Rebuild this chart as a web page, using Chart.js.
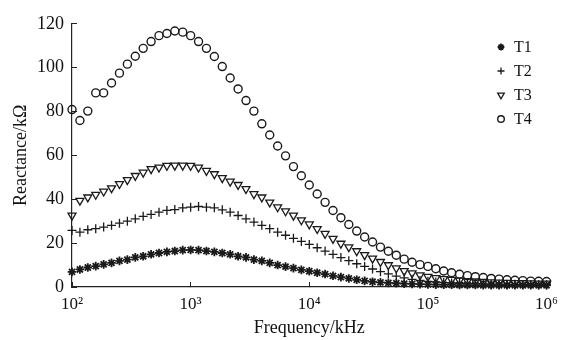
<!DOCTYPE html>
<html>
<head>
<meta charset="utf-8">
<script src="https://cdn.jsdelivr.net/npm/chart.js@4/dist/chart.umd.min.js"></script>
<style>
    html, body { margin: 0; padding: 0; background: #fff; }
    canvas { display: block; }
</style>
</head>
<body>
<canvas id="reactanceChart" width="570" height="340"></canvas>
<script>
// Frequency sweep in kHz (15 points per decade)
const frequencies = [
    100, 116.6, 135.9, 158.5, 184.8, 215.4, 251.2, 292.9, 341.5, 398.1, 464.2, 541.2, 631.0, 735.6, 857.7,
    1000, 1166, 1359, 1585, 1848, 2154, 2512, 2929, 3415, 3981, 4642, 5412, 6310, 7356, 8577,
    10000, 11659, 13594, 15849, 18478, 21544, 25119, 29286, 34145, 39811, 46416, 54117, 63096, 73564, 85770,
    100000, 116590, 135940, 158490, 184780, 215440, 251190, 292860, 341450, 398110, 464160, 541170, 630960, 735640, 857700,
    1000000,
];

// Reactance in kOhm
const reactanceT1 = [
    6.9, 8.0, 8.9, 9.5, 10.3, 11.0, 11.9, 12.5, 13.5, 14.0, 14.9, 15.5, 16.0, 16.4, 16.8,
    16.9, 16.8, 16.4, 16.0, 15.5, 14.9, 14.0, 13.5, 12.5, 11.9, 11.0, 10.0, 9.3, 8.6, 7.8,
    7.2, 6.5, 5.9, 5.1, 4.5, 3.9, 3.3, 2.8, 2.4, 2.1, 1.9, 1.7, 1.5, 1.4, 1.3,
    1.2, 1.1, 1.0, 1.0, 0.9, 0.9, 0.9, 0.8, 0.8, 0.8, 0.8, 0.8, 0.8, 0.8, 0.8,
    0.8,
];
const reactanceT2 = [
    25.8, 25.0, 26.1, 26.6, 27.3, 28.1, 29.1, 30.0, 31.1, 32.2, 33.1, 34.1, 34.9, 35.3, 36.1,
    36.4, 36.7, 36.4, 36.1, 35.2, 34.1, 32.6, 31.1, 29.6, 28.1, 26.6, 25.0, 23.6, 22.2, 20.8,
    19.4, 17.9, 16.4, 14.9, 13.4, 12.0, 10.6, 9.4, 8.2, 7.0, 6.0, 5.0, 4.2, 3.5, 3.0,
    2.6, 2.3, 2.0, 1.8, 1.7, 1.6, 1.5, 1.4, 1.3, 1.3, 1.2, 1.2, 1.1, 1.1, 1.0,
    1.0,
];
const reactanceT3 = [
    32.6, 39.4, 40.9, 42.1, 43.6, 45.1, 47.0, 48.8, 50.7, 52.2, 53.8, 54.5, 55.3, 55.4, 55.4,
    55.3, 54.5, 53.0, 51.5, 49.7, 48.1, 46.6, 44.7, 42.4, 40.9, 38.6, 36.4, 34.6, 32.6, 30.5,
    28.6, 26.5, 24.3, 22.0, 19.8, 18.2, 16.4, 14.6, 13.0, 11.5, 10.0, 8.6, 7.3, 6.3, 5.4,
    4.7, 4.1, 3.7, 3.3, 3.0, 2.8, 2.6, 2.4, 2.2, 2.1, 2.0, 1.9, 1.8, 1.7, 1.6,
    1.6,
];
const reactanceT4 = [
    80.9, 75.9, 80.2, 88.5, 88.5, 93.0, 97.5, 101.6, 105.2, 108.8, 111.9, 114.6, 115.6, 116.7, 116.2,
    114.6, 111.9, 108.8, 105.1, 100.5, 95.3, 90.3, 85.0, 80.2, 74.4, 69.3, 64.3, 59.8, 54.9, 50.7,
    46.5, 42.4, 38.6, 34.9, 31.6, 28.5, 25.5, 22.8, 20.5, 18.2, 16.3, 14.5, 12.7, 11.3, 10.2,
    9.4, 8.3, 7.3, 6.5, 5.8, 5.2, 4.7, 4.3, 3.9, 3.6, 3.3, 3.1, 2.9, 2.7, 2.6,
    2.5,
];

const seriesLabels = ['T1', 'T2', 'T3', 'T4'];
const xTickValues = [100, 1000, 10000, 100000, 1000000];
const xTickLabels = ['10\u00b2', '10\u00b3', '10\u2074', '10\u2075', '10\u2076'];

const serif = "'Liberation Serif', 'Times New Roman', serif";

const markerStyles = [
    {pointStyle: 'star', radius: 4.3, borderWidth: 1.8, rotation: 0, legendRadius: 3.4},
    {pointStyle: 'cross', radius: 4.5, borderWidth: 1.3, rotation: 0, legendRadius: 3.5},
    {pointStyle: 'triangle', radius: 4.6, borderWidth: 1.3, rotation: 180, legendRadius: 3.8},
    {pointStyle: 'circle', radius: 4, borderWidth: 1.4, rotation: 0, legendRadius: 3.3},
];

const allSeries = [reactanceT1, reactanceT2, reactanceT3, reactanceT4];

const datasets = allSeries.map((values, i) => ({
    label: seriesLabels[i],
    data: frequencies.map((f, j) => ({x: f, y: values[j]})),
    showLine: false,
    clip: false,
    pointStyle: markerStyles[i].pointStyle,
    pointRadius: markerStyles[i].radius,
    pointBorderWidth: markerStyles[i].borderWidth,
    pointRotation: markerStyles[i].rotation,
    borderColor: '#1a1a1a',
    backgroundColor: 'rgba(0, 0, 0, 0)',
}));

// Legend drawn inside the plot, top right
const insideLegend = {
    id: 'insideLegend',
    afterDraw(chart) {
        const ctx = chart.ctx;
        ctx.save();
        ctx.font = '16px ' + serif;
        ctx.textBaseline = 'middle';
        ctx.textAlign = 'left';
        seriesLabels.forEach((label, i) => {
            const y = 47 + i * 24;
            const m = markerStyles[i];
            ctx.strokeStyle = '#1a1a1a';
            ctx.fillStyle = 'rgba(0, 0, 0, 0)';
            ctx.lineWidth = m.borderWidth;
            Chart.helpers.drawPoint(ctx, {
                pointStyle: m.pointStyle,
                radius: m.legendRadius,
                borderWidth: m.borderWidth,
                rotation: m.rotation,
            }, 501, y);
            ctx.fillStyle = '#111';
            ctx.fillText(label, 514, y + 1);
        });
        ctx.restore();
    },
};

const reactanceChartCtx = document.getElementById('reactanceChart').getContext('2d');

new Chart(reactanceChartCtx, {
    type: 'scatter',
    data: {datasets},
    options: {
        responsive: false,
        animation: false,
        devicePixelRatio: 1,
        layout: {padding: {left: 0, right: 19, top: 22, bottom: 0}},
        plugins: {
            legend: {display: false},
            tooltip: {enabled: false},
        },
        scales: {
            x: {
                type: 'logarithmic',
                min: 100,
                max: 1000000,
                afterBuildTicks: (scale) => {
                    scale.ticks = xTickValues.map((v) => ({value: v}));
                },
                afterFit: (scale) => {
                    scale.height = 53;
                },
                ticks: {
                    autoSkip: false,
                    maxRotation: 0,
                    padding: 12,
                    color: '#111',
                    font: {family: serif, size: 17},
                    callback: (value, index) => xTickLabels[index],
                },
                grid: {drawOnChartArea: false, tickLength: -5, tickColor: '#222', tickWidth: 1},
                border: {display: true, color: '#222', width: 1.2},
                title: {
                    display: true,
                    text: 'Frequency/kHz',
                    color: '#111',
                    font: {family: serif, size: 18},
                    padding: {top: 0, bottom: 1},
                },
            },
            y: {
                min: 0,
                max: 120,
                afterFit: (scale) => {
                    scale.width = 72;
                },
                ticks: {
                    stepSize: 20,
                    padding: 13,
                    color: '#111',
                    font: {family: serif, size: 18},
                },
                grid: {drawOnChartArea: false, tickLength: -5, tickColor: '#222', tickWidth: 1},
                border: {display: true, color: '#222', width: 1.2},
                title: {
                    display: true,
                    text: 'Reactance/k\u03a9',
                    color: '#111',
                    font: {family: serif, size: 18},
                    padding: {top: 10, bottom: 0},
                },
            },
        },
    },
    plugins: [insideLegend],
});
</script>
</body>
</html>
